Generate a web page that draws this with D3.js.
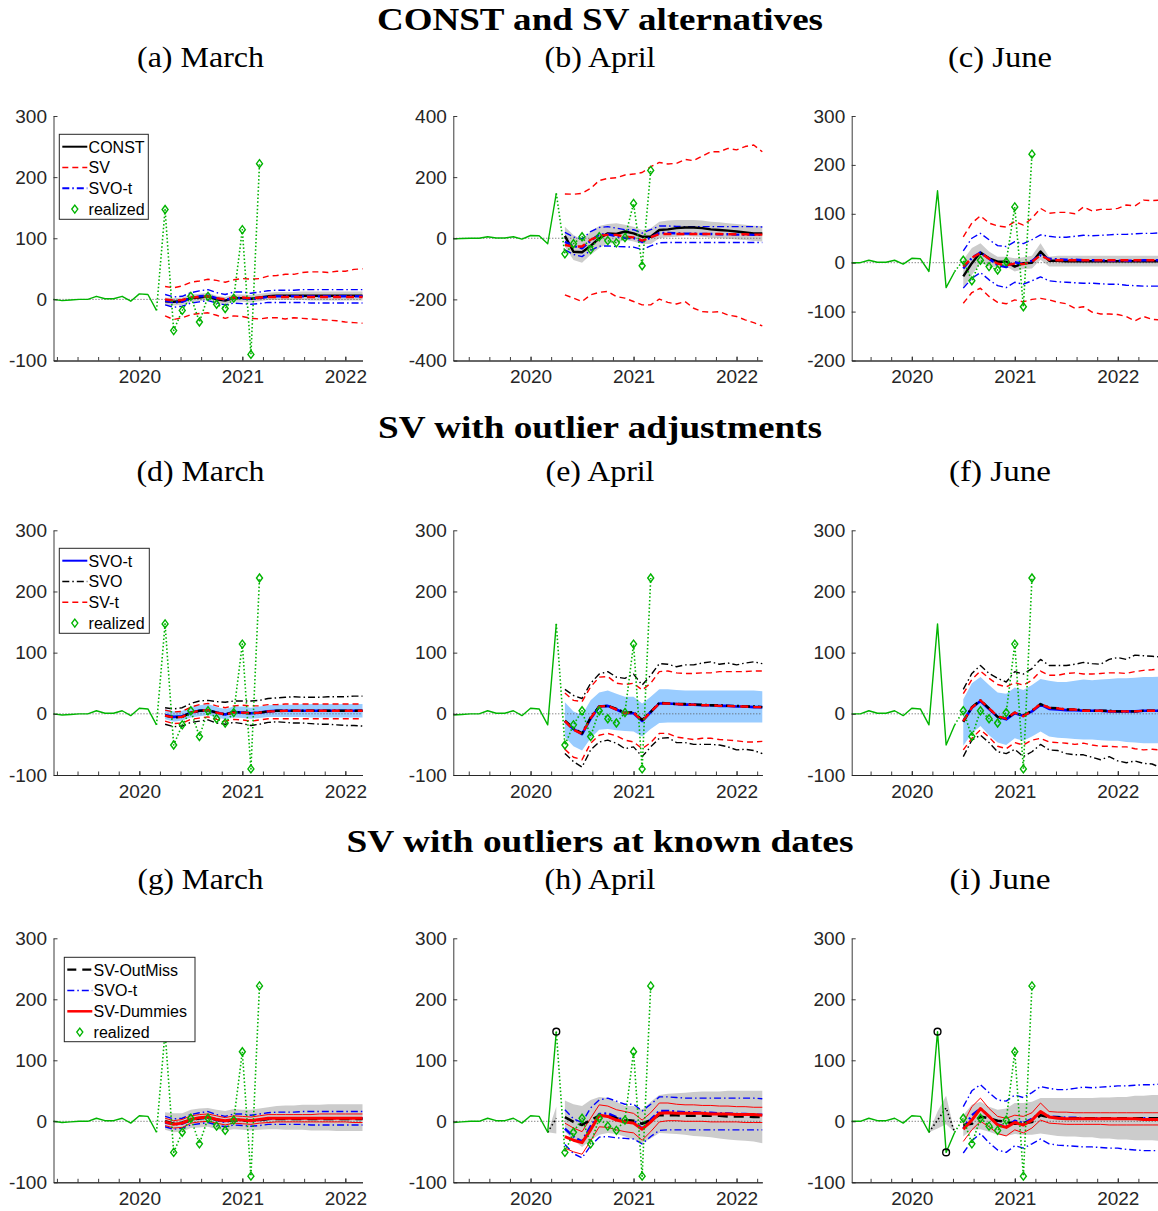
<!DOCTYPE html>
<html>
<head>
<meta charset="utf-8">
<script src="https://cdn.jsdelivr.net/npm/d3@7"></script>
<style>
  body { margin: 0; background: #fff; }
</style>
</head>
<body>
<div id="chart"></div>
<script>
// ---- realized series, monthly from March 2019 (index 0) to March 2021 ----
const realized = [0, -2, -1, 0, 0, 5, 1, 1, 5, -3, 9, 8, -18, 147, -51, -18, 5, -37, 5, -8, -15, 2, 114, -90, 222];

// forecast origins (index in realized) for March, April, June
const origins = [12, 13, 15];
const columnNames = ["March", "April", "June"];
const rowTitles = ["CONST and SV alternatives", "SV with outlier adjustments", "SV with outliers at known dates"];
const panelLetters = ["a", "b", "c", "d", "e", "f", "g", "h", "i"];

// ---- SVO-t (same model in every row) ----
const svotMarMed = [-2, -5, -4, 2, 5, 6, 2, -1, 3, 2, 1, 2, 4, 5, 5, 5, 5, 5, 5, 5, 5, 5, 5, 5];
const svotMarHi = [8, 4, 5, 11, 14, 16, 11, 8, 12, 12, 10, 12, 14, 15, 15, 15, 16, 16, 16, 16, 16, 16, 16, 16];
const svotMarLo = [-9, -13, -11, -6, -4, -2, -6, -9, -6, -7, -8, -7, -5, -5, -5, -5, -5, -6, -6, -6, -6, -6, -6, -6];
const svotAprMed = [-12, -25, -33, -8, 12, 13, 7, 1, 1, -12, 3, 17, 17, 16, 15, 15, 14, 14, 13, 13, 12, 12, 11, 11];
const svotAprHi = [19, 4, -2, 22, 35, 38, 33, 28, 28, 17, 28, 40, 40, 39, 38, 38, 38, 38, 38, 38, 38, 38, 38, 37];
const svotAprLo = [-38, -53, -60, -40, -26, -25, -27, -28, -29, -37, -25, -15, -14, -14, -14, -14, -14, -14, -14, -14, -14, -14, -14, -14];
const svotJunMed = [-12, 10, 21, 8, -5, -9, 1, -3, 4, 15, 8, 7, 6, 6, 5, 5, 5, 4, 4, 4, 4, 5, 5, 5];
const svotJunHi = [24, 50, 60, 47, 35, 33, 43, 39, 47, 57, 54, 52, 52, 54, 56, 55, 56, 57, 58, 58, 59, 60, 60, 61];
const svotJunLo = [-52, -32, -20, -35, -47, -51, -40, -44, -37, -29, -37, -39, -40, -41, -42, -42, -43, -44, -44, -46, -47, -48, -48, -48];

// ---- row 1: CONST and SV ----
const aConstMed = [-3, -4, -3, 2, 3, 5, 0, -2, 2, 2, 1, 3, 5, 6, 6, 6, 6, 6, 6, 6, 6, 6, 6, 6];
const aConstHi = [3, 2, 3, 8, 9, 11, 6, 4, 8, 8, 7, 9, 11, 12, 12, 12, 13, 13, 13, 13, 13, 13, 13, 13];
const aConstLo = [-9, -10, -9, -4, -3, -1, -6, -8, -4, -4, -5, -3, -1, -1, -1, -1, -1, -2, -2, -2, -2, -2, -2, -2];
const aSvMed = [0, -2, -1, 3, 4, 5, 2, 0, 3, 3, 2, 3, 4, 4, 4, 4, 4, 4, 4, 4, 4, 4, 4, 4];
const aSvHi = [21, 19, 22, 28, 30, 33, 31, 28, 32, 34, 33, 34, 38, 39, 41, 41, 44, 45, 45, 44, 46, 46, 49, 50];
const aSvLo = [-27, -33, -30, -25, -23, -22, -26, -31, -27, -28, -31, -32, -30, -30, -32, -30, -31, -32, -33, -34, -35, -37, -38, -39];

const bConstMed = [8, -44, -46, -25, 0, 16, 14, 22, 16, 5, 5, 27, 29, 33, 35, 35, 33, 29, 27, 25, 22, 19, 16, 16];
const bConstHi = [38, 11, -5, 22, 40, 47, 49, 44, 38, 27, 33, 54, 58, 60, 60, 60, 58, 54, 52, 49, 47, 44, 41, 40];
const bConstLo = [-27, -71, -80, -54, -33, -16, -16, -5, -11, -19, -19, 0, 3, 5, 8, 6, 5, 2, 0, -2, -4, -6, -9, -11];
const bSvMed = [-22, -27, -27, -5, 8, 11, 11, 5, 3, -8, 3, 14, 14, 14, 14, 14, 14, 14, 14, 13, 13, 13, 12, 12];
const bSvHi = [145, 144, 147, 163, 189, 196, 198, 207, 210, 215, 234, 248, 243, 245, 258, 254, 269, 283, 283, 294, 289, 300, 305, 283];
const bSvLo = [-185, -196, -207, -185, -177, -174, -191, -196, -207, -218, -218, -199, -210, -215, -207, -229, -240, -242, -240, -251, -256, -267, -276, -287];

const cConstMed = [-28, -1, 21, 9, 2, 2, -8, -1, 0, 23, 4, 4, 3, 3, 3, 3, 3, 3, 3, 3, 3, 3, 3, 3];
const cConstHi = [6, 30, 40, 23, 12, 12, 9, 11, 14, 40, 12, 14, 14, 14, 14, 14, 14, 14, 14, 14, 14, 14, 14, 14];
const cConstLo = [-52, -25, 0, -8, -9, -8, -18, -13, -12, 6, -8, -8, -8, -8, -8, -8, -8, -8, -8, -8, -8, -8, -8, -8];
const cSvMed = [-8, 10, 20, 8, -2, -5, -2, -3, 2, 15, 6, 5, 5, 5, 5, 5, 5, 5, 5, 5, 5, 5, 5, 5];
const cSvHi = [53, 81, 96, 81, 75, 73, 84, 77, 91, 111, 101, 103, 103, 100, 114, 106, 109, 109, 111, 118, 116, 128, 127, 128];
const cSvLo = [-83, -61, -52, -69, -81, -84, -76, -80, -75, -73, -76, -81, -84, -93, -90, -101, -105, -105, -106, -110, -119, -110, -116, -117];

// ---- row 2: SVO and SV-t ----
const dSvoMed = [-3, -6, -5, 2, 5, 6, 2, -1, 3, 2, 1, 2, 4, 5, 5, 5, 5, 5, 5, 5, 5, 5, 5, 5];
const dSvoHi = [10, 8, 10, 17, 21, 22, 20, 19, 21, 21, 21, 22, 25, 26, 27, 28, 27, 27, 27, 28, 28, 28, 29, 29];
const dSvoLo = [-17, -21, -20, -14, -12, -10, -15, -17, -14, -16, -19, -17, -14, -13, -14, -15, -15, -16, -17, -17, -18, -19, -19, -20];
const dSvtMed = [-3, -6, -5, 2, 5, 6, 2, -1, 2, 2, 1, 2, 4, 4, 5, 5, 5, 5, 5, 5, 5, 5, 5, 5];
const dSvtHi = [6, 3, 4, 11, 15, 17, 13, 10, 13, 14, 13, 13, 15, 15, 16, 16, 16, 16, 16, 16, 16, 16, 16, 16];
const dSvtLo = [-12, -16, -15, -9, -7, -5, -9, -12, -9, -10, -12, -10, -8, -8, -8, -8, -8, -8, -8, -8, -8, -8, -8, -8];

const eSvoMed = [-11, -24, -32, -6, 12, 13, 8, 2, 3, -10, 3, 18, 17, 16, 16, 15, 15, 14, 14, 13, 13, 12, 12, 11];
const eSvoHi = [40, 30, 25, 50, 65, 69, 60, 58, 65, 47, 63, 82, 81, 77, 80, 80, 83, 85, 81, 83, 80, 83, 85, 82];
const eSvoLo = [-65, -78, -87, -59, -46, -43, -48, -57, -54, -70, -54, -40, -39, -47, -47, -50, -50, -50, -51, -54, -59, -58, -60, -65];
const eSvtMed = [-12, -26, -33, -7, 12, 13, 7, 1, 2, -12, 3, 17, 17, 16, 15, 15, 14, 14, 13, 13, 12, 12, 11, 11];
const eSvtHi = [34, 22, 20, 44, 60, 61, 50, 48, 50, 39, 50, 69, 70, 67, 66, 66, 67, 67, 69, 69, 69, 69, 70, 70];
const eSvtLo = [-58, -71, -75, -48, -35, -32, -36, -43, -46, -57, -47, -32, -32, -38, -40, -42, -40, -40, -42, -43, -44, -46, -46, -45];

const fSvoMed = [-13, 11, 22, 9, -5, -8, 2, -3, 5, 16, 10, 9, 7, 7, 6, 5, 5, 5, 4, 4, 4, 5, 5, 5];
const fSvoHi = [40, 66, 79, 66, 58, 52, 69, 65, 74, 89, 79, 79, 79, 81, 84, 82, 81, 89, 92, 89, 96, 95, 94, 93];
const fSvoLo = [-70, -43, -35, -47, -62, -65, -58, -70, -62, -50, -59, -60, -65, -67, -67, -71, -75, -70, -77, -80, -77, -81, -82, -88];
const fSvtMed = [-12, 10, 22, 9, -4, -8, 2, -4, 5, 16, 10, 9, 7, 7, 5, 5, 5, 4, 4, 4, 4, 5, 5, 5];
const fSvtHi = [33, 56, 70, 58, 48, 44, 51, 47, 55, 70, 63, 63, 66, 67, 65, 65, 66, 67, 67, 66, 69, 71, 72, 74];
const fSvtLo = [-59, -40, -26, -38, -53, -57, -47, -51, -43, -40, -46, -47, -48, -50, -48, -51, -53, -53, -54, -54, -57, -59, -58, -59];

// ---- row 3: SV-OutMiss and SV-Dummies ----
const gOmMed = [0, -4, -2, 2, 5, 6, 3, 0, 2, 1, 1, 2, 4, 4, 4, 4, 4, 4, 4, 4, 4, 4, 4, 4];
const gOmHi = [15, 13, 13, 19, 21, 22, 19, 17, 20, 19, 19, 21, 23, 25, 26, 26, 27, 27, 27, 28, 28, 28, 28, 28];
const gOmLo = [-14, -18, -17, -11, -10, -9, -13, -15, -13, -14, -15, -14, -13, -13, -14, -14, -14, -15, -15, -15, -16, -16, -16, -16];
const gDumMed = [-1, -5, -3, 3, 6, 7, 3, 1, 3, 2, 1, 3, 5, 5, 5, 5, 5, 5, 5, 5, 5, 5, 5, 5];
const gDumHi = [5, 1, 3, 9, 11, 12, 9, 6, 9, 8, 7, 9, 11, 11, 11, 11, 11, 11, 12, 12, 12, 12, 12, 12];
const gDumLo = [-7, -11, -10, -3, -1, 0, -3, -6, -3, -4, -5, -3, -2, -1, -1, -1, -1, -1, -1, -1, -1, -1, -2, -2];

const hOmMed = [7, -1, -6, 2, 9, 8, 5, 2, 1, -4, 2, 10, 10, 10, 9, 9, 9, 9, 9, 8, 8, 8, 7, 7];
const hOmHi = [34, 28, 25, 35, 40, 38, 32, 25, 25, 19, 32, 43, 45, 46, 47, 48, 49, 49, 49, 50, 50, 50, 50, 50];
const hOmLo = [-17, -31, -42, -31, -22, -19, -21, -25, -30, -36, -28, -19, -20, -21, -22, -24, -25, -26, -28, -30, -31, -32, -33, -36];
const hDumMed = [-25, -31, -35, -14, 10, 8, 2, -1, -3, -13, -1, 13, 14, 13, 13, 13, 13, 12, 12, 12, 11, 11, 11, 10];
const hDumHi = [-3, -11, -17, 5, 27, 25, 19, 16, 13, 2, 14, 30, 30, 28, 27, 27, 26, 26, 25, 25, 24, 24, 23, 23];
const hDumLo = [-44, -50, -54, -32, -9, -10, -14, -17, -19, -31, -17, -1, 1, 1, 0, 0, 0, -1, -1, -1, -1, -2, -2, -2];
// OutMiss estimate over the outlier months (March-April 2020)
const hPreIdx = [12, 13];
const hPreMed = [-18, 5];
const hPreHi = [-18, 24];
const hPreLo = [-18, -20];
const hOutIdx = [13];

const iOmMed = [-6, -4, 8, 5, 1, -1, -4, -3, -1, 10, 7, 6, 5, 5, 5, 5, 5, 5, 5, 5, 5, 5, 5, 5];
const iOmHi = [10, 27, 32, 24, 19, 21, 30, 30, 32, 38, 38, 38, 38, 38, 38, 38, 39, 39, 40, 40, 42, 42, 43, 43];
const iOmLo = [-25, -14, -13, -17, -22, -24, -21, -22, -22, -20, -22, -24, -25, -25, -26, -26, -28, -28, -30, -30, -31, -31, -31, -32];
const iDumMed = [-13, 2, 21, 8, -6, -10, -2, -6, 2, 16, 7, 5, 4, 4, 4, 4, 4, 4, 4, 4, 4, 3, 3, 3];
const iDumHi = [-3, 24, 38, 21, 8, 5, 10, 8, 14, 30, 16, 15, 15, 14, 14, 14, 14, 14, 14, 14, 14, 14, 14, 14];
const iDumLo = [-33, -14, 0, -9, -20, -24, -14, -19, -11, 2, -3, -4, -5, -5, -5, -5, -5, -6, -6, -6, -6, -6, -6, -6];
const iPreIdx = [12, 13, 14, 15];
const iPreMed = [-18, 2, 22, -18];
const iPreHi = [-18, 16, 42, -18];
const iPreLo = [-18, -12, -5, -18];
const iOutIdx = [13, 14];

// ---- layout ----
const W = 1158, H = 1211;
const colPx = [[53.5, 362.5], [453.3, 762.3], [851.7, 1160.7]];
const rowPx = [[360.5, 116], [775, 530.3], [1182.3, 938.3]];
const titleY = [30, 438, 852];
const subY = [67, 481, 889];
const titleLen = [446, 444, 507];
const subCx = [200.5, 600, 1000];
const subLen = [[127, 111, 104], [128, 109, 102], [126, 111, 101]];

const GREEN = "#00b400", RED = "#ff0000", BLUE = "#0000ff", GRAYF = "#cccccc", LBLUE = "#99ccff";
const AX = "#262626";
const DASH = "6,4", DASHMED = "8,5", DD = "7,3,1.5,3", DDMED = "8,3,2,3", LDASH = "10,6";

const st = {
  redDash: { color: RED, w: 1.4, dash: DASH },
  redDashMed: { color: RED, w: 2.4, dash: DASHMED },
  blueDD: { color: BLUE, w: 1.4, dash: DD },
  blueDDMed: { color: BLUE, w: 2.4, dash: DDMED },
  blackMed: { color: "#000", w: 2.4 },
  blueMed: { color: BLUE, w: 2.6 },
  blackDD: { color: "#000", w: 1.4, dash: DD },
  blackDDMed: { color: "#000", w: 2.4, dash: DDMED },
  blackDashMed: { color: "#000", w: 2.6, dash: LDASH },
  redThin: { color: RED, w: 1 },
  redMed: { color: RED, w: 3 }
};

const svot = [
  { med: svotMarMed, hi: svotMarHi, lo: svotMarLo },
  { med: svotAprMed, hi: svotAprHi, lo: svotAprLo },
  { med: svotJunMed, hi: svotJunHi, lo: svotJunLo }
];

const yDomains = [[-100, 300], [-400, 400], [-200, 300], [-100, 300], [-100, 300], [-100, 300], [-100, 300], [-100, 300], [-100, 300]];
const yTickSets = [
  [-100, 0, 100, 200, 300], [-400, -200, 0, 200, 400], [-200, -100, 0, 100, 200, 300],
  [-100, 0, 100, 200, 300], [-100, 0, 100, 200, 300], [-100, 0, 100, 200, 300],
  [-100, 0, 100, 200, 300], [-100, 0, 100, 200, 300], [-100, 0, 100, 200, 300]
];

function row1(c, med, hi, lo, svMed, svHi, svLo) {
  return {
    fills: [{ hi, lo, color: GRAYF }],
    lines: [
      { v: svHi, s: st.redDash }, { v: svLo, s: st.redDash },
      { v: svot[c].hi, s: st.blueDD }, { v: svot[c].lo, s: st.blueDD },
      { v: med, s: st.blackMed },
      { v: svot[c].med, s: st.blueDDMed },
      { v: svMed, s: st.redDashMed }
    ]
  };
}
function row2(c, svoMed, svoHi, svoLo, svtMed, svtHi, svtLo) {
  return {
    fills: [{ hi: svot[c].hi, lo: svot[c].lo, color: LBLUE }],
    lines: [
      { v: svoHi, s: st.blackDD }, { v: svoLo, s: st.blackDD },
      { v: svtHi, s: st.redDash }, { v: svtLo, s: st.redDash },
      { v: svot[c].med, s: st.blueMed },
      { v: svoMed, s: st.blackDDMed },
      { v: svtMed, s: st.redDashMed }
    ]
  };
}
function row3(c, omMed, omHi, omLo, dMed, dHi, dLo) {
  return {
    fills: [{ hi: omHi, lo: omLo, color: GRAYF }],
    lines: [
      { v: svot[c].hi, s: st.blueDD }, { v: svot[c].lo, s: st.blueDD },
      { v: dHi, s: st.redThin }, { v: dLo, s: st.redThin },
      { v: svot[c].med, s: st.blueDDMed },
      { v: omMed, s: st.blackDashMed },
      { v: dMed, s: st.redMed }
    ]
  };
}

const panels = [
  row1(0, aConstMed, aConstHi, aConstLo, aSvMed, aSvHi, aSvLo),
  row1(1, bConstMed, bConstHi, bConstLo, bSvMed, bSvHi, bSvLo),
  row1(2, cConstMed, cConstHi, cConstLo, cSvMed, cSvHi, cSvLo),
  row2(0, dSvoMed, dSvoHi, dSvoLo, dSvtMed, dSvtHi, dSvtLo),
  row2(1, eSvoMed, eSvoHi, eSvoLo, eSvtMed, eSvtHi, eSvtLo),
  row2(2, fSvoMed, fSvoHi, fSvoLo, fSvtMed, fSvtHi, fSvtLo),
  row3(0, gOmMed, gOmHi, gOmLo, gDumMed, gDumHi, gDumLo),
  Object.assign(row3(1, hOmMed, hOmHi, hOmLo, hDumMed, hDumHi, hDumLo),
    { pre: { idx: hPreIdx, med: hPreMed, hi: hPreHi, lo: hPreLo }, outliers: hOutIdx }),
  Object.assign(row3(2, iOmMed, iOmHi, iOmLo, iDumMed, iDumHi, iDumLo),
    { pre: { idx: iPreIdx, med: iPreMed, hi: iPreHi, lo: iPreLo }, outliers: iOutIdx })
];

const legends = [
  { panel: 0, box: [59.3, 134.3, 89, 85], entries: [
    { label: "CONST", s: { color: "#000", w: 2 } },
    { label: "SV", s: st.redDash },
    { label: "SVO-t", s: { color: BLUE, w: 2, dash: DD } },
    { label: "realized", marker: true }] },
  { panel: 3, box: [59.3, 548.3, 90, 85], entries: [
    { label: "SVO-t", s: { color: BLUE, w: 2 } },
    { label: "SVO", s: { color: "#000", w: 1.6, dash: DD } },
    { label: "SV-t", s: st.redDash },
    { label: "realized", marker: true }] },
  { panel: 6, box: [64.3, 957.3, 130.7, 84.4], entries: [
    { label: "SV-OutMiss", s: { color: "#000", w: 2.2, dash: "9,6" } },
    { label: "SVO-t", s: { color: BLUE, w: 1.6, dash: DD } },
    { label: "SV-Dummies", s: { color: RED, w: 2.5 } },
    { label: "realized", marker: true }] }
];

// ---- drawing ----
const svg = d3.select("#chart").append("svg")
  .attr("width", W).attr("height", H)
  .style("background", "#fff");

const monthX = i => 2019 + (2 + i) / 12;
const diamond = (cx, cy) => `M${cx},${cy - 4}L${cx + 3},${cy}L${cx},${cy + 4}L${cx - 3},${cy}Z`;

function styleLine(sel, s) {
  sel.attr("fill", "none").attr("stroke", s.color).attr("stroke-width", s.w)
    .attr("stroke-dasharray", s.dash || null).attr("stroke-linejoin", "round");
}

panels.forEach((p, n) => {
  const r = Math.floor(n / 3), c = n % 3;
  const o = origins[c];
  const x = d3.scaleLinear().domain([monthX(o - 12), monthX(o + 24)]).range(colPx[c]);
  const y = d3.scaleLinear().domain(yDomains[n]).range(rowPx[r]);
  const g = svg.append("g");
  const fx = k => monthX(o + 1 + k);

  // bands
  p.fills.forEach(f => {
    g.append("path")
      .datum(d3.range(f.hi.length))
      .attr("fill", f.color).attr("stroke", "none")
      .attr("d", d3.area().x(k => x(fx(k))).y0(k => y(f.lo[k])).y1(k => y(f.hi[k])));
  });
  if (p.pre) {
    g.append("path")
      .datum(d3.range(p.pre.idx.length))
      .attr("fill", GRAYF)
      .attr("d", d3.area().x(k => x(monthX(p.pre.idx[k]))).y0(k => y(p.pre.lo[k])).y1(k => y(p.pre.hi[k])));
  }

  // zero line
  g.append("line")
    .attr("x1", colPx[c][0]).attr("x2", colPx[c][1])
    .attr("y1", y(0)).attr("y2", y(0))
    .attr("stroke", "#555").attr("stroke-width", 1).attr("stroke-dasharray", "1,2");

  // model lines
  p.lines.forEach(l => {
    g.append("path")
      .datum(l.v)
      .call(styleLine, l.s)
      .attr("d", d3.line().x((v, k) => x(fx(k))).y(v => y(v)));
  });

  if (p.pre) {
    g.append("path")
      .datum(p.pre.idx.map((idx, k) => [monthX(idx), p.pre.med[k]]))
      .call(styleLine, { color: "#000", w: 1.6, dash: "1.5,2.5" })
      .attr("d", d3.line().x(d => x(d[0])).y(d => y(d[1])));
  }

  // realized
  const pts = realized.map((v, i) => [monthX(i), v, i]);
  const solid = pts.filter(d => d[2] >= o - 12 && d[2] <= o);
  const dotted = pts.filter(d => d[2] >= o);
  const lp = d3.line().x(d => x(d[0])).y(d => y(d[1]));
  g.append("path").datum(solid).call(styleLine, { color: GREEN, w: 1.4 }).attr("d", lp);
  g.append("path").datum(dotted).call(styleLine, { color: GREEN, w: 1.6, dash: "1.5,2.2" }).attr("d", lp);
  g.selectAll(".dia").data(pts.filter(d => d[2] > o)).enter()
    .append("path").attr("class", "dia")
    .attr("d", d => diamond(x(d[0]), y(d[1])))
    .attr("fill", "none").attr("stroke", GREEN).attr("stroke-width", 1.4);

  if (p.outliers) {
    g.selectAll(".out").data(p.outliers).enter()
      .append("circle")
      .attr("cx", i => x(monthX(i))).attr("cy", i => y(realized[i]))
      .attr("r", 3.4).attr("fill", "none").attr("stroke", "#000").attr("stroke-width", 1.4);
  }

  // axes (plain hyphen for negative labels, as in the original)
  const yAxis = g.append("g")
    .attr("transform", `translate(${colPx[c][0]},0)`)
    .call(d3.axisLeft(y).tickValues(yTickSets[n]).tickSize(-4).tickSizeOuter(0).tickPadding(6.5)
      .tickFormat(d => String(d)));
  const minor = d3.range(Math.ceil(x.domain()[0] * 5), Math.floor(x.domain()[1] * 5) + 1).map(v => v / 5);
  const xMinor = g.append("g")
    .attr("transform", `translate(0,${rowPx[r][0]})`)
    .call(d3.axisBottom(x).tickValues(minor).tickSize(-3.5).tickSizeOuter(0).tickFormat(""));
  const xAxis = g.append("g")
    .attr("transform", `translate(0,${rowPx[r][0]})`)
    .call(d3.axisBottom(x).tickValues([2020, 2021, 2022]).tickSize(-4).tickSizeOuter(0)
      .tickPadding(9.5).tickFormat(d => String(d)));
  [yAxis, xMinor, xAxis].forEach(a => {
    a.attr("font-family", "'Liberation Sans', Arial, sans-serif").attr("font-size", 19);
    a.selectAll("path, line").attr("stroke", AX).attr("stroke-width", 0.9);
    a.selectAll("text").attr("fill", AX);
  });
});

// legends
legends.forEach(L => {
  const [bx, by, bw, bh] = L.box;
  const g = svg.append("g");
  g.append("rect").attr("x", bx).attr("y", by).attr("width", bw).attr("height", bh)
    .attr("fill", "#fff").attr("stroke", AX).attr("stroke-width", 1);
  L.entries.forEach((e, i) => {
    const cy = by + 12.4 + i * 20.8;
    if (e.marker) {
      g.append("path").attr("d", diamond(bx + 15.5, cy))
        .attr("fill", "none").attr("stroke", GREEN).attr("stroke-width", 1.4);
    } else {
      g.append("line").attr("x1", bx + 3).attr("x2", bx + 28).attr("y1", cy).attr("y2", cy)
        .call(styleLine, e.s);
    }
    g.append("text").attr("x", bx + 29.3).attr("y", cy + 5.8)
      .attr("font-family", "'Liberation Sans', Arial, sans-serif").attr("font-size", 16)
      .attr("fill", "#000").text(e.label);
  });
});

// titles
rowTitles.forEach((t, r) => {
  svg.append("text").attr("x", 600).attr("y", titleY[r])
    .attr("text-anchor", "middle")
    .attr("font-family", "'Liberation Serif', 'Times New Roman', serif")
    .attr("font-weight", "bold").attr("font-size", 31)
    .attr("textLength", titleLen[r]).attr("lengthAdjust", "spacingAndGlyphs")
    .text(t);
  columnNames.forEach((m, c) => {
    svg.append("text").attr("x", subCx[c]).attr("y", subY[r])
      .attr("text-anchor", "middle")
      .attr("font-family", "'Liberation Serif', 'Times New Roman', serif")
      .attr("font-size", 29)
      .attr("textLength", subLen[r][c]).attr("lengthAdjust", "spacingAndGlyphs")
      .text(`(${panelLetters[r * 3 + c]}) ${m}`);
  });
});
</script>
</body>
</html>
